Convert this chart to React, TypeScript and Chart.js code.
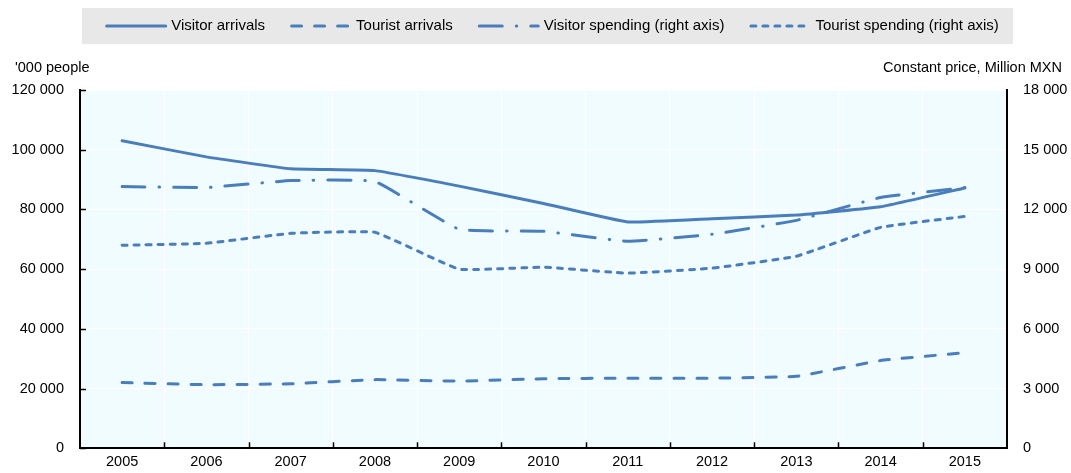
import React, { useEffect, useRef } from 'react';
import { Chart, registerables } from 'chart.js';

Chart.register(...registerables);

const years = ['2005', '2006', '2007', '2008', '2009', '2010', '2011', '2012', '2013', '2014', '2015'];
const visitorArrivals = [103000, 97600, 93600, 93000, 87800, 82000, 75800, 76900, 78100, 80900, 87200];
const touristArrivals = [22000, 21300, 21600, 23000, 22500, 23300, 23500, 23500, 24100, 29400, 32000];
const visitorSpending = [13150, 13100, 13450, 13400, 11000, 10900, 10400, 10750, 11450, 12600, 13100];
const touristSpending = [10200, 10300, 10800, 10850, 9000, 9100, 8800, 9050, 9650, 11100, 11650];

const leftAxisTitle = "'000 people";
const rightAxisTitle = 'Constant price, Million MXN';
const leftMax = 120000;
const leftStep = 20000;
const rightMax = 18000;
const rightStep = 3000;

const BLUE = '#4a7ebb';
const FONT = "'Liberation Sans', Arial, sans-serif";
const FS = 14.5;
const LEGEND_FS = 15;

const fmt = (v: number) => String(v).replace(/\B(?=(\d{3})+(?!\d))/g, ' ');

const decor = {
  id: 'decor',
  beforeDraw(chart: any) {
    const { ctx, chartArea } = chart;
    const { left, top, right, bottom } = chartArea;
    ctx.save();
    ctx.fillStyle = '#e8e8e8';
    ctx.fillRect(left + 2, 8, right - left + 4, 36);
    ctx.fillStyle = 'rgb(240,252,255)';
    ctx.fillRect(left, top, right - left, bottom - top);
    ctx.restore();
  },
  afterDraw(chart: any) {
    const { ctx, chartArea } = chart;
    const { left, right, bottom } = chartArea;
    const y = chart.scales.y;
    const x = chart.scales.x;
    ctx.save();
    // inward tick marks
    ctx.strokeStyle = '#000';
    ctx.lineWidth = 1.5;
    ctx.beginPath();
    for (const t of y.ticks) {
      const py = Math.round(y.getPixelForValue(t.value)) + 0.5;
      ctx.moveTo(left, py);
      ctx.lineTo(left + 6, py);
    }
    const n = years.length;
    const w = (right - left) / n;
    for (let i = 1; i < n; i++) {
      const px = Math.round(x.getPixelForValue(i) - w / 2) + 0.5;
      ctx.moveTo(px, bottom);
      ctx.lineTo(px, bottom - 6);
    }
    ctx.stroke();
    // axis titles
    ctx.fillStyle = '#000';
    ctx.font = `${FS}px ${FONT}`;
    ctx.textBaseline = 'middle';
    ctx.textAlign = 'left';
    ctx.fillText(leftAxisTitle, 15, 68);
    ctx.textAlign = 'right';
    ctx.fillText(rightAxisTitle, 1062, 68);
    // legend
    const ds = chart.data.datasets;
    const lineW = 59;
    const gapText = 4;
    const gapItem = 25;
    ctx.font = `${LEGEND_FS}px ${FONT}`;
    const widths = ds.map((d: any) => ctx.measureText(d.label).width);
    const total = widths.reduce((a: number, b: number) => a + b, 0) + ds.length * (lineW + 3 + gapText) + (ds.length - 1) * gapItem;
    let cx = 552 - total / 2;
    const ly = 26;
    ds.forEach((d: any, i: number) => {
      ctx.save();
      ctx.strokeStyle = d.borderColor;
      ctx.lineWidth = d.borderWidth;
      ctx.lineCap = 'round';
      ctx.setLineDash(d.borderDash || []);
      ctx.beginPath();
      ctx.moveTo(cx + 1.5, ly);
      ctx.lineTo(cx + 1.5 + lineW, ly);
      ctx.stroke();
      ctx.restore();
      cx += lineW + 3 + gapText;
      ctx.fillStyle = '#000';
      ctx.textAlign = 'left';
      ctx.textBaseline = 'middle';
      ctx.fillText(d.label, cx, ly);
      cx += widths[i] + gapItem;
    });
    ctx.restore();
  },
};

export default function App() {
  const ref = useRef<HTMLCanvasElement>(null);
  useEffect(() => {
    if (!ref.current) return;
    Chart.defaults.font.family = FONT;
    Chart.defaults.color = '#000';
    const common = {
      borderColor: BLUE,
      backgroundColor: BLUE,
      borderWidth: 3,
      pointRadius: 0,
      pointHoverRadius: 0,
      tension: 0.1,
      fill: false,
      borderCapStyle: 'round' as const,
      borderJoinStyle: 'round' as const,
    };
    const tickFont = { size: FS, family: FONT };
    const chart = new Chart(ref.current, {
      type: 'line',
      data: {
        labels: years,
        datasets: [
          { ...common, label: 'Visitor arrivals', data: visitorArrivals, yAxisID: 'y', borderDash: [] },
          { ...common, label: 'Tourist arrivals', data: touristArrivals, yAxisID: 'y', borderDash: [10, 13] },
          { ...common, label: 'Visitor spending (right axis)', data: visitorSpending, yAxisID: 'y1', borderDash: [23, 14, 0.5, 14] },
          { ...common, label: 'Tourist spending (right axis)', data: touristSpending, yAxisID: 'y1', borderDash: [5, 7] },
        ],
      },
      options: {
        responsive: false,
        animation: false,
        events: [],
        layout: { padding: { top: 90, left: 0, right: 0, bottom: 0 } },
        plugins: {
          legend: { display: false },
          tooltip: { enabled: false },
        },
        scales: {
          x: {
            type: 'category',
            offset: true,
            grid: { offset: true, color: '#ffffff', lineWidth: 1, drawTicks: false },
            border: { display: true, color: '#000', width: 2 },
            ticks: { padding: 5, color: '#000', font: tickFont, maxRotation: 0, autoSkip: false },
            afterFit: (s: any) => { s.height = 23; },
          },
          y: {
            type: 'linear',
            position: 'left',
            min: 0,
            max: leftMax,
            grid: { color: '#ffffff', lineWidth: 1, drawTicks: false },
            border: { display: true, color: '#000', width: 2 },
            ticks: { stepSize: leftStep, padding: 16, color: '#000', font: tickFont, callback: (v: any) => fmt(Number(v)) },
            afterFit: (s: any) => { s.width = 80; },
          },
          y1: {
            type: 'linear',
            position: 'right',
            min: 0,
            max: rightMax,
            grid: { display: false, drawTicks: false },
            border: { display: true, color: '#000', width: 2 },
            ticks: { stepSize: rightStep, padding: 16, color: '#000', font: tickFont, callback: (v: any) => fmt(Number(v)) },
            afterFit: (s: any) => { s.width = 64; },
          },
        },
      },
      plugins: [decor],
    } as any);
    return () => chart.destroy();
  }, []);
  return (
    <div style={{ position: 'absolute', left: 0, top: 0, width: 1071, height: 473, background: '#fff' }}>
      <canvas ref={ref} width={1071} height={473} style={{ display: 'block' }} />
    </div>
  );
}
